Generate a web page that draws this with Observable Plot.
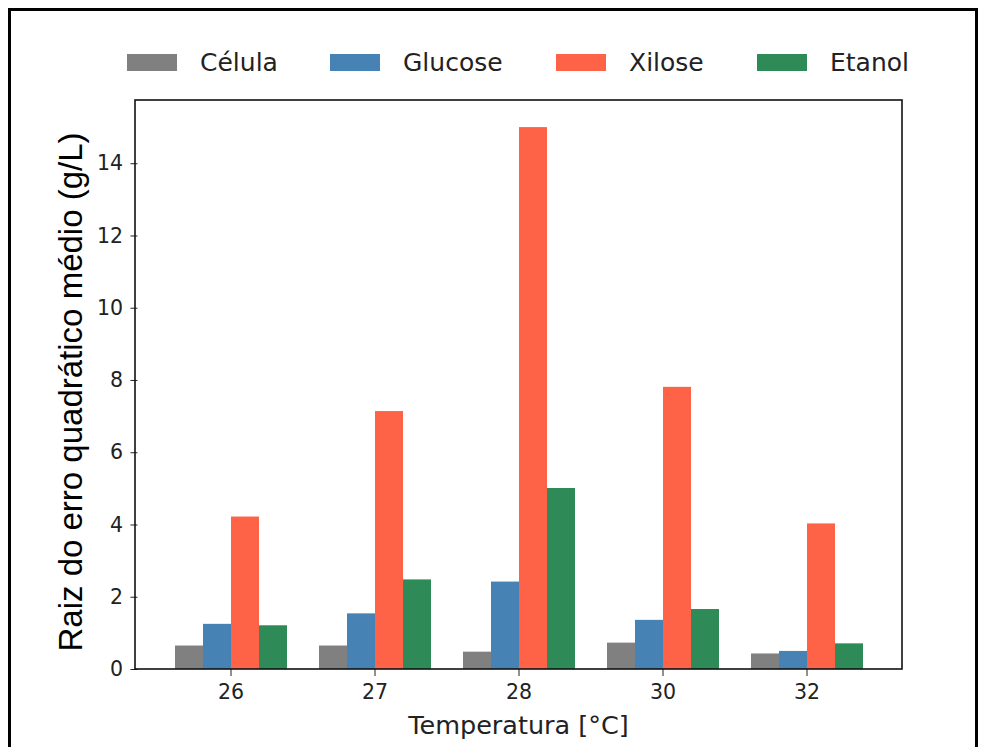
<!DOCTYPE html>
<html>
<head>
<meta charset="utf-8">
<script src="https://cdn.jsdelivr.net/npm/d3@7"></script>
<script src="https://cdn.jsdelivr.net/npm/@observablehq/plot@0.6"></script>
<style>
  body { margin: 0; background: #fff; }
  #root { position: relative; width: 989px; height: 747px; overflow: hidden; background: #fff; }
  #border { position: absolute; left: 8px; top: 8px; width: 964px; height: 800px; border: 3px solid #000; pointer-events: none; }
  #legend { height: 85px; position: relative; font-family: "DejaVu Sans", sans-serif; font-size: 25px; color: #222; }
  .item { position: absolute; top: 46px; display: flex; align-items: center; height: 32px; }
  .sw { width: 50px; height: 17px; margin-right: 23px; }
</style>
</head>
<body>
<div id="root">
  <div id="legend"></div>
  <div id="chart"></div>
  <div id="border"></div>
</div>
<script>
const temps = ["26", "27", "28", "30", "32"];
const series = ["Célula", "Glucose", "Xilose", "Etanol"];
const celula = [0.65, 0.65, 0.48, 0.73, 0.43];
const glucose = [1.25, 1.54, 2.42, 1.36, 0.50];
const xilose = [4.22, 7.14, 15.0, 7.81, 4.03];
const etanol = [1.21, 2.48, 5.01, 1.66, 0.71];
const colors = ["#808080", "#4682b4", "#ff6347", "#2e8b57"];
const yTicks = [0, 2, 4, 6, 8, 10, 12, 14];
const xLabel = "Temperatura [°C]";
const yLabel = "Raiz do erro quadrático médio (g/L)";

const valuesBySeries = [celula, glucose, xilose, etanol];
const data = temps.flatMap((t, i) => series.map((s, j) => ({temp: t, series: s, value: valuesBySeries[j][i]})));

// legend
const legendLeft = [127, 330, 556, 757];
const legend = document.getElementById("legend");
series.forEach((s, j) => {
  const it = document.createElement("div");
  it.className = "item";
  it.style.left = legendLeft[j] + "px";
  it.innerHTML = `<div class="sw" style="background:${colors[j]}"></div><span>${s}</span>`;
  legend.appendChild(it);
});

const W = 989, H = 662, mL = 135, mR = 87, mT = 15, mB = 78;
const padIn = 0.2, padOut = 0.245;
// shift of the y axis from the first facet's left edge to the plot frame's left edge
const step = (W - mL - mR) / (temps.length - padIn + 2 * padOut);
const axisShift = padOut * step;

const chart = Plot.plot({
  width: W, height: H,
  marginLeft: mL, marginRight: mR, marginTop: mT, marginBottom: mB,
  style: {fontFamily: "DejaVu Sans, sans-serif", fontSize: "20px", color: "#222", background: "white", overflow: "visible"},
  fx: {domain: temps, paddingInner: padIn, paddingOuter: padOut},
  x: {domain: series, padding: 0},
  y: {domain: [0, 15.75]},
  color: {domain: series, range: colors},
  marks: [
    Plot.barY(data, {fx: "temp", x: "series", y: "value", fill: "series"}),
    Plot.axisX({ticks: [], label: null, tickSize: 0}),
    Plot.axisFx({anchor: "bottom", label: null, tickSize: 7, tickPadding: 8, fontSize: 20.5}),
    Plot.axisY({ticks: yTicks, label: null, tickSize: 7, tickPadding: 8, fontSize: 20.5, dx: -axisShift})
  ]
});

const svg = d3.select(chart);
svg.append("rect")
  .attr("x", mL).attr("y", mT)
  .attr("width", W - mL - mR).attr("height", H - mT - mB)
  .attr("fill", "none").attr("stroke", "#111").attr("stroke-width", 1.6);
svg.append("text")
  .attr("x", mL + (W - mL - mR) / 2).attr("y", 649)
  .attr("text-anchor", "middle")
  .attr("font-family", "DejaVu Sans, sans-serif").attr("font-size", 25.5)
  .attr("fill", "#222")
  .text(xLabel);
svg.append("text")
  .attr("transform", "translate(82,307) rotate(-90)")
  .attr("text-anchor", "middle")
  .attr("font-family", "Liberation Sans, Arial, sans-serif").attr("font-size", 33)
  .attr("fill", "#000")
  .text(yLabel);

document.getElementById("chart").appendChild(chart);
</script>
</body>
</html>
